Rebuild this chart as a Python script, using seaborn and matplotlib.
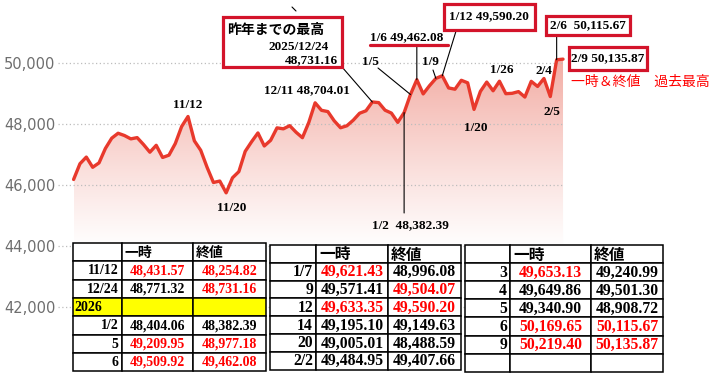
import numpy as np
import pandas as pd
import matplotlib
matplotlib.use('Agg')
import matplotlib.pyplot as plt
import seaborn as sns
from matplotlib.patches import Rectangle
from matplotlib.lines import Line2D
from matplotlib.transforms import Affine2D
from matplotlib.colors import to_rgb

# daily closes, 2025/10/17 - 2026/2/9
dates = ['10/17', '10/20', '10/21', '10/22', '10/23', '10/24', '10/27', '10/28', '10/29', '10/30', '10/31',
         '11/3', '11/4', '11/5', '11/6', '11/7', '11/10', '11/11', '11/12', '11/13', '11/14', '11/17',
         '11/18', '11/19', '11/20', '11/21', '11/24', '11/25', '11/26', '11/28',
         '12/1', '12/2', '12/3', '12/4', '12/5', '12/8', '12/9', '12/10', '12/11', '12/12', '12/15',
         '12/16', '12/17', '12/18', '12/19', '12/22', '12/23', '12/24', '12/26', '12/29', '12/30', '12/31',
         '1/2', '1/5', '1/6', '1/7', '1/8', '1/9', '1/12', '1/13', '1/14', '1/15', '1/16', '1/20',
         '1/21', '1/22', '1/23', '1/26', '1/27', '1/28', '1/29', '1/30',
         '2/2', '2/3', '2/4', '2/5', '2/6', '2/9']
closes = [46190.61, 46706.58, 46924.74, 46590.41, 46734.61, 47207.12, 47544.59, 47706.37, 47632.00, 47522.12, 47562.87,
          47336.68, 47085.24, 47311.00, 46912.30, 46987.10, 47368.63, 47927.96, 48254.82, 47457.22, 47147.48, 46590.24,
          46091.74, 46138.77, 45752.26, 46245.41, 46448.27, 47112.45, 47427.12, 47716.42,
          47289.33, 47474.46, 47882.90, 47850.94, 47954.99, 47739.32, 47560.29, 48057.75, 48704.01, 48458.05, 48416.56,
          48114.26, 47885.97, 47951.85, 48134.89, 48362.68, 48442.41, 48731.16, 48710.97, 48461.93, 48367.06, 48063.29,
          48382.39, 48977.18, 49462.08, 48996.08, 49266.11, 49504.07, 49590.20, 49191.99, 49149.63, 49442.44, 49359.33, 48488.59,
          49077.23, 49384.01, 49098.71, 49412.40, 49003.41, 49015.60, 49071.56, 48892.47,
          49407.66, 49240.99, 49501.30, 48908.72, 50115.67, 50135.87]
yticks = [42000, 44000, 46000, 48000, 50000]

# tables: 一時 (intraday high) / 終値 (close); red = record at the time
t1_labels = ['11/12', '12/24', '2026', '1/2', '5', '6']
t1_high = [48431.57, 48771.32, None, 48404.06, 49209.95, 49509.92]
t1_close = [48254.82, 48731.16, None, 48382.39, 48977.18, 49462.08]
t1_high_red = [1, 0, 0, 0, 1, 1]
t1_close_red = [1, 1, 0, 0, 1, 1]

t2_labels = ['1/7', '9', '12', '14', '20', '2/2']
t2_high = [49621.43, 49571.41, 49633.35, 49195.10, 49005.01, 49484.95]
t2_close = [48996.08, 49504.07, 49590.20, 49149.63, 48488.59, 49407.66]
t2_high_red = [1, 0, 1, 0, 0, 0]
t2_close_red = [0, 1, 1, 0, 0, 0]

t3_labels = ['3', '4', '5', '6', '9', '']
t3_high = [49653.13, 49649.86, 49340.90, 50169.65, 50219.40, None]
t3_close = [49240.99, 49501.30, 48908.72, 50115.67, 50135.87, None]
t3_high_red = [1, 0, 0, 1, 1, 0]
t3_close_red = [0, 0, 0, 1, 1, 0]

W, H = 715, 384
LINE = '#e8392c'
RED = '#ff0000'
BOX = '#d3142a'

sns.set_style('white')
plt.rcParams['font.family'] = ['DejaVu Sans', 'Noto Sans CJK JP']

fig = plt.figure(figsize=(W / 100, H / 100), dpi=100)
pix = Affine2D().scale(1 / W, -1 / H).translate(0, 1) + fig.transFigure  # pixel coords, top-left origin

ax = fig.add_axes([58 / W, 0, 1 - 58 / W, 1])
df = pd.DataFrame({'i': np.arange(len(dates)), 'close': closes})
ybot, ytop = 39485, 52075
x0, x1 = (58 - 73.6) / 6.356, (W - 73.6) / 6.356

# gradient fill under the line, fading out towards the tables
ys = np.linspace(ybot, 50400, 300)
t = np.clip((ys - 43900) / (50400 - 43900), 0, 1) ** 1.1
c_lo, c_hi = np.array(to_rgb('#ffffff')), np.array(to_rgb('#f2a9a0'))
rgb = c_lo[None, :] + t[:, None] * (c_hi - c_lo)[None, :]
im = ax.imshow(rgb[:, None, :], extent=[0, len(dates) - 1, ybot, 50400], origin='lower',
               aspect='auto', zorder=1, interpolation='bilinear')
poly = ax.fill_between(df['i'], df['close'], ybot, color='none', lw=0)
im.set_clip_path(poly.get_paths()[0], ax.transData)

ax.hlines(yticks, x0, len(dates) - 1, colors='#bdbdbd', linestyles=(0, (1, 2)), lw=0.9, zorder=2)
sns.lineplot(data=df, x='i', y='close', ax=ax, color=LINE, lw=2.4, zorder=3)

ax.set_xlim(x0, x1)
ax.set_ylim(ybot, ytop)
ax.set_xticks([])
ax.set_yticks(yticks)
ax.set_yticklabels([f'{v:,}' for v in yticks])
ax.tick_params(axis='y', length=0, pad=2, labelsize=10.5, labelcolor='#6e6e6e')
ax.set_xlabel('')
ax.set_ylabel('')
for s in ax.spines.values():
    s.set_visible(False)

serif = dict(family='Liberation Serif', weight='bold', fontsize=9.5, color='black')
jp = 'Noto Sans CJK JP'


def txt(px, py, s, ha='center', **kw):
    style = dict(serif)
    style.update(kw)
    fig.text(px / W, 1 - py / H, s, ha=ha, va='center', zorder=8, **style)


def box(x, y, w, h, lw=2.3):
    fig.add_artist(Rectangle((x, y), w, h, transform=pix, facecolor='white',
                             edgecolor=BOX, lw=lw, zorder=7))


def leader(d, px, py, vertical=False):
    i = dates.index(d)
    tc = ('data', pix) if vertical else pix
    xt = (i, py) if vertical else (px, py)
    ax.annotate('', xy=(i, closes[i]), xytext=xt, textcoords=tc, annotation_clip=False,
                arrowprops=dict(arrowstyle='-', lw=0.8, color='black', shrinkA=0, shrinkB=0),
                zorder=4)


# 昨年までの最高 box
box(223, 17, 119, 50)
txt(227, 30, '昨年までの最高', ha='left', family=jp, weight='bold', fontsize=10)
txt(329, 47, '2025/12/24', ha='right')
txt(338, 60, '48,731.16', ha='right')
leader('12/24', 342, 67)
fig.add_artist(Line2D([292, 296], [7, 11], transform=pix, color='black', lw=0.8))

txt(188, 105, '11/12')
txt(232, 208, '11/20')
txt(307, 90, '12/11 48,704.01')
txt(370, 62, '1/5')
leader('1/5', 378, 68)
txt(407, 37, '1/6 49,462.08')
fig.add_artist(Line2D([370, 448], [44.5, 44.5], transform=pix, color=BOX, lw=2.3))
leader('1/6', 0, 45, vertical=True)
box(443.5, 3.5, 91, 26)
txt(489, 16.5, '1/12 49,590.20')
leader('1/12', 456.5, 29.5)
txt(430, 62, '1/9')
leader('1/9', 433, 70)
txt(410, 225, '1/2  48,382.39')
leader('1/2', 0, 213, vertical=True)
txt(476, 128, '1/20')
txt(502, 70, '1/26')
txt(544, 71, '2/4')
txt(552, 112, '2/5')
box(545.5, 15.5, 84.5, 19)
txt(588, 25, '2/6  50,115.67')
leader('2/6', 0, 34.5, vertical=True)
box(568.5, 47, 78, 23)
txt(607.5, 58.5, '2/9 50,135.87')
txt(640, 82, '一時＆終値　過去最高', family=jp, weight='normal', fontsize=10, color=RED)


def fmt(v):
    return '' if v is None else f'{v:,.2f}'


def draw_table(cols, top, rh, labels, high, close, high_red, close_red, size):
    rows = [('', '一時', '終値', 0, 0)] + list(zip(labels, map(fmt, high), map(fmt, close), high_red, close_red))
    for r, (lab, h, c, hr, cr) in enumerate(rows):
        y = top + r * rh
        yellow = lab == '2026'
        for k in range(3):
            fig.add_artist(Rectangle((cols[k], y), cols[k + 1] - cols[k], rh, transform=pix,
                                     facecolor='#ffff00' if yellow else 'white',
                                     edgecolor='black', lw=1.1, zorder=5))
        yc = y + rh / 2 + 0.5
        if r == 0:
            for k, s in ((1, h), (2, c)):
                txt(cols[k] + 3, yc, s, ha='left', family=jp, weight='bold', fontsize=size)
            continue
        if yellow:
            txt(cols[0] + 2, yc, lab, ha='left', fontsize=size)
        else:
            txt(cols[1] - 3, yc, lab, ha='right', fontsize=size)
        txt((cols[1] + cols[2]) / 2, yc, h, fontsize=size, color=RED if hr else 'black')
        txt((cols[2] + cols[3]) / 2, yc, c, fontsize=size, color=RED if cr else 'black')


draw_table([72.7, 121.7, 193, 265.5], 243, 18.3, t1_labels, t1_high, t1_close,
           t1_high_red, t1_close_red, 10)
draw_table([270, 316, 388, 461], 245, 17.8, t2_labels, t2_high, t2_close,
           t2_high_red, t2_close_red, 11.3)
draw_table([465, 510, 591, 663], 245, 18.1, t3_labels, t3_high, t3_close,
           t3_high_red, t3_close_red, 11.3)

fig.savefig('out.png', dpi=100)
